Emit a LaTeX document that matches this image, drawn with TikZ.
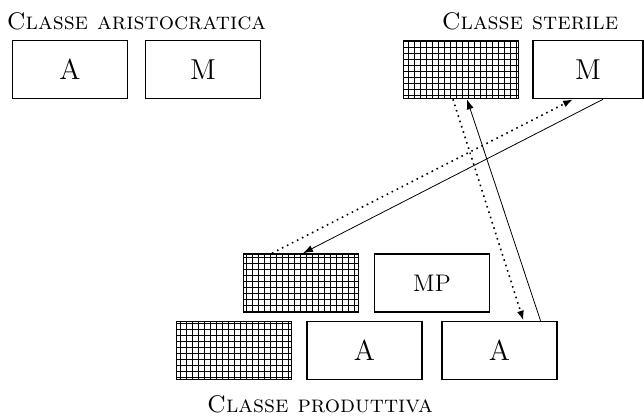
\documentclass[tikz,border=0pt]{standalone}
\usepackage{tikz}
\usetikzlibrary{patterns,arrows.meta}

\begin{document}
\begin{tikzpicture}[x=0.5pt,y=-0.5pt,
	box/.style={draw=black,thick,minimum width=57.5pt,minimum height=29pt,inner sep=0pt,font=\Large},
	gridbox/.style={box,pattern=grid},
	classlabel/.style={font=\large\scshape},
	flow/.style={-{Latex[length=5pt,width=3.5pt]}}]
	\useasboundingbox (0,0) rectangle (644,419);
	% classe aristocratica
	\node[box] (aA) at (70,69.5) {A};
	\node[box] (aM) at (203,69.5) {M};
	\node[classlabel] (aLab) at (136.5,21) {Classe aristocratica};
	% classe sterile
	\node[gridbox] (sG) at (461,69.5) {};
	\node[box,minimum width=55pt] (sM) at (588,69.5) {M};
	\node[classlabel] (sLab) at (530,21) {Classe sterile};
	% classe produttiva
	\node[gridbox] (pG1) at (301,283) {};
	\node[box,font=\large] (pMP) at (432,283) {MP};
	\node[gridbox] (pG2) at (234,350.5) {};
	\node[box] (pA1) at (364.5,350.5) {A};
	\node[box] (pA2) at (499.5,350.5) {A};
	\node[classlabel] (pLab) at (320,404) {Classe produttiva};
	% flussi
	\draw[flow] ([xshift=7.5pt]sM.south) -- ([xshift=1pt]pG1.north);
	\draw[flow,thick,dotted] ([xshift=-14.5pt]pG1.north) -- ([xshift=-7.5pt]sM.south);
	\draw[flow,thick,dotted] ([xshift=-4pt]sG.south) -- ([xshift=12pt]pA2.north);
	\draw[flow] ([xshift=20.5pt]pA2.north) -- ([xshift=3pt]sG.south);
\end{tikzpicture}
\end{document}
